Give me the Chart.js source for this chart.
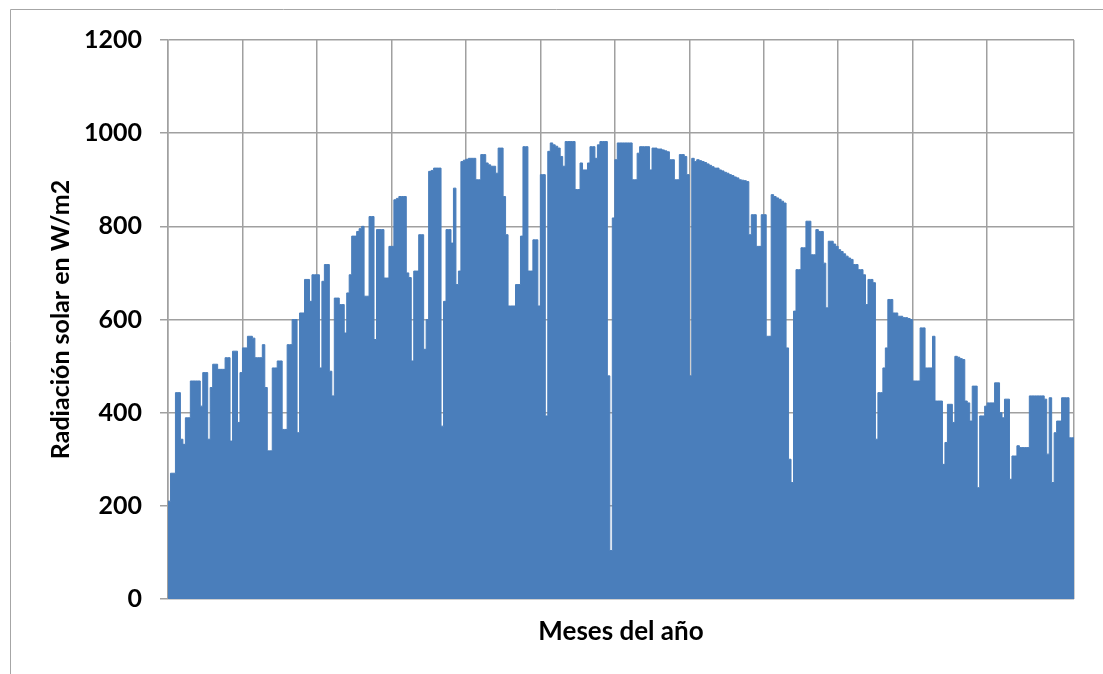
<!DOCTYPE html>
<html>
<head>
<meta charset="utf-8">
<script src="https://cdn.jsdelivr.net/npm/chart.js@4.4.1/dist/chart.umd.min.js"></script>
<style>
  html, body { margin: 0; padding: 0; background: #fff; }
  #wrap { width: 1103px; height: 674px; position: relative; }
</style>
</head>
<body>
<div id="wrap"><canvas id="myChart" width="1103" height="674"></canvas></div>
<script>
// Pico diario de radiacion solar (W/m2), un valor por dia del año (0..364)
const radiacion = [
  205, 210, 270, 270, 443, 443, 343, 332, 389, 389,
  468, 468, 468, 468, 414, 486, 486, 343, 454, 504,
  504, 493, 493, 493, 518, 518, 339, 532, 532, 379,
  486, 539, 539, 564, 564, 560, 518, 518, 518, 546,
  454, 318, 318, 496, 496, 511, 511, 364, 364, 546,
  546, 600, 600, 357, 614, 614, 686, 686, 639, 696,
  696, 696, 496, 682, 718, 718, 489, 436, 646, 646,
  632, 632, 571, 657, 696, 779, 779, 789, 795, 800,
  650, 650, 821, 821, 557, 793, 793, 793, 689, 689,
  757, 757, 857, 860, 864, 864, 864, 700, 690, 511,
  704, 704, 782, 782, 536, 600, 918, 920, 925, 925,
  925, 371, 639, 793, 793, 764, 882, 675, 704, 939,
  942, 944, 946, 946, 946, 900, 900, 954, 954, 936,
  932, 929, 929, 914, 968, 968, 864, 782, 629, 629,
  629, 675, 675, 779, 971, 971, 704, 704, 771, 771,
  629, 911, 911, 393, 961, 979, 975, 972, 968, 950,
  929, 982, 982, 982, 982, 879, 879, 936, 921, 921,
  936, 971, 971, 946, 975, 982, 982, 982, 479, 104,
  818, 943, 979, 979, 979, 979, 979, 979, 900, 900,
  957, 971, 971, 971, 971, 921, 968, 968, 966, 966,
  964, 962, 960, 943, 943, 900, 900, 954, 954, 950,
  911, 479, 946, 939, 943, 941, 939, 937, 934, 931,
  928, 925, 925, 921, 919, 916, 914, 911, 909, 906,
  904, 900, 899, 898, 896, 782, 825, 825, 757, 757,
  825, 825, 564, 564, 868, 864, 861, 858, 854, 850,
  539, 300, 250, 618, 707, 707, 754, 754, 811, 811,
  739, 739, 793, 789, 789, 721, 625, 768, 768, 762,
  757, 750, 746, 741, 736, 732, 729, 718, 718, 707,
  707, 696, 632, 686, 686, 679, 343, 443, 443, 496,
  539, 643, 643, 614, 614, 607, 607, 604, 604, 602,
  600, 468, 468, 468, 582, 582, 496, 496, 496, 564,
  425, 425, 425, 289, 336, 418, 418, 379, 521, 519,
  516, 514, 425, 421, 382, 457, 457, 239, 393, 393,
  414, 421, 421, 421, 464, 464, 400, 389, 429, 429,
  257, 307, 307, 329, 325, 325, 325, 325, 436, 436,
  436, 436, 436, 436, 429, 311, 432, 250, 357, 382,
  382, 432, 432, 432, 346
];

const tituloY = 'Radiación solar en W/m2';
const tituloX = 'Meses del año';
const diasPorMes = 30;   // separacion de las lineas verticales

// cada dia ocupa [i, i+1); se repite el ultimo valor para cerrar el escalon
const puntos = radiacion.map((v, i) => ({ x: i, y: v }));
puntos.push({ x: radiacion.length, y: radiacion[radiacion.length - 1] });

const gridColor = '#a0a0a0';
const azul = '#4a7ebb';

// marco exterior del grafico
const marco = {
  id: 'marco',
  beforeDraw(chart) {
    const ctx = chart.ctx;
    ctx.save();
    ctx.fillStyle = '#fff';
    ctx.fillRect(0, 0, chart.width, chart.height);
    ctx.strokeStyle = '#a6a6a6';
    ctx.lineWidth = 1;
    ctx.beginPath();
    ctx.moveTo(10.5, chart.height);
    ctx.lineTo(10.5, 9.5);
    ctx.lineTo(chart.width, 9.5);
    ctx.stroke();
    ctx.restore();
  }
};

const ctx = document.getElementById('myChart').getContext('2d');
const myChart = new Chart(ctx, {
  type: 'line',
  data: {
    datasets: [{
      label: 'Radiación',
      data: puntos,
      stepped: 'after',
      fill: 'origin',
      backgroundColor: azul,
      borderColor: azul,
      borderWidth: 1,
      pointRadius: 0
    }]
  },
  options: {
    responsive: false,
    animation: false,
    layout: { padding: { top: 40, right: 29, left: 0, bottom: 0 } },
    plugins: { legend: { display: false }, tooltip: { enabled: false } },
    scales: {
      x: {
        type: 'linear',
        min: 0,
        max: radiacion.length,
        ticks: { display: false, stepSize: diasPorMes },
        grid: { color: gridColor, lineWidth: 1.5, drawTicks: false },
        border: { display: false },
        title: {
          display: true, text: tituloX, color: '#000',
          font: { family: 'Lato', weight: 'bold', size: 26 },
          padding: { top: 0, bottom: 27 }
        },
        afterFit: s => { s.height = 75; }
      },
      y: {
        min: 0,
        max: 1200,
        ticks: {
          stepSize: 200, color: '#000', padding: 18,
          font: { family: 'Lato', weight: 'bold', size: 25 },
          callback: v => String(v)
        },
        grid: { color: gridColor, lineWidth: 1.5, tickLength: 8 },
        border: { color: gridColor, width: 1.5 },
        title: {
          display: true, text: tituloY, color: '#000',
          font: { family: 'Lato', weight: 'bold', size: 25 },
          padding: { top: 46, bottom: 0 }
        },
        afterFit: s => { s.width = 168; }
      }
    }
  },
  plugins: [marco]
});
</script>
</body>
</html>
